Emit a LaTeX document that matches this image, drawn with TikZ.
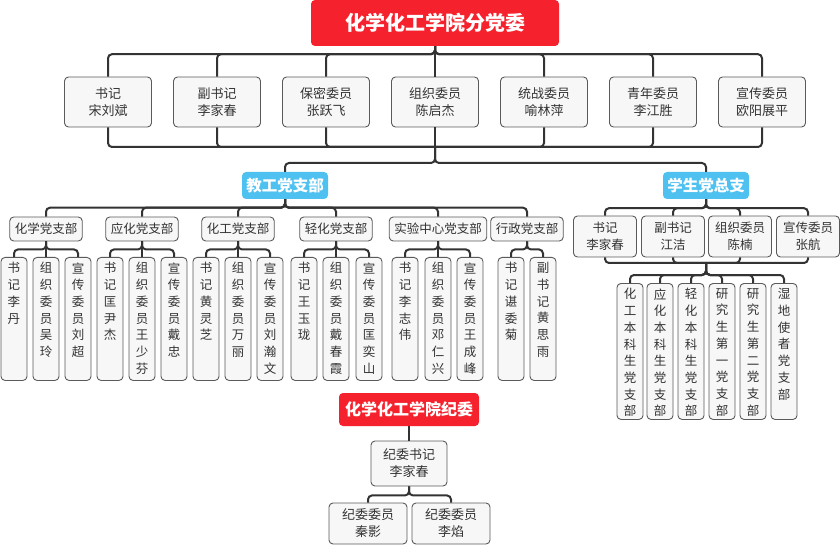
\documentclass[tikz,border=0pt]{standalone}
\usepackage{fontspec}
\setmainfont{Noto Sans CJK SC}
\XeTeXlinebreaklocale "zh"
\XeTeXlinebreakskip=0pt plus 1pt
\definecolor{dangred}{HTML}{F5222D}
\definecolor{tianlan}{HTML}{4FC1F1}
\definecolor{kuang}{HTML}{5A5A5A}
\definecolor{qianhui}{HTML}{F7F7F7}
\definecolor{xian}{HTML}{333333}
\definecolor{zi}{HTML}{333333}
% vertical text column, top aligned
\newcommand\shuzi[2]{\parbox[c][#1][t]{14pt}{\centering #2}}

\begin{document}
\begin{tikzpicture}[x=1pt, y=-1pt,
    wei/.style={fill=dangred, rounded corners=4pt, text=white, inner sep=0pt,
                font=\bfseries\fontsize{20}{24}\selectfont,
                minimum width=248pt, minimum height=46pt},
    zhibu/.style={fill=tianlan, rounded corners=4pt, text=white, inner sep=0pt,
                font=\bfseries\fontsize{15.5}{18}\selectfont,
                minimum width=86pt, minimum height=27pt},
    ka/.style={draw=kuang, fill=qianhui, line width=0.9pt, rounded corners=4pt,
               text=zi, align=center, inner sep=0pt,
               font=\fontsize{13}{17}\selectfont},
    bu/.style={ka, font=\fontsize{12.5}{15}\selectfont, minimum height=24pt,
               inner xsep=5pt},
    shu/.style={ka, font=\fontsize{12.5}{16.7}\selectfont, inner xsep=6pt,
                inner ysep=5pt, anchor=north},
    conn/.style={draw=xian, line width=2pt, rounded corners=4pt}
  ]
  \useasboundingbox (0,0) rectangle (840,545);

  % ── 分党委 ──
  \node[wei] (wei) at (435,23) {化学化工学院分党委};
  \coordinate (fen) at (435,147);
  \foreach \n/\txt [count=\i from 0] in {shuji/{书记\\宋刘斌}, fushuji/{副书记\\李家春},
      baomi/{保密委员\\张跃飞}, zuzhi/{组织委员\\陈启杰}, tongzhan/{统战委员\\喻林萍},
      qingnian/{青年委员\\李江胜}, xuanchuan/{宣传委员\\欧阳展平}}
  {
    \node[ka, minimum width=87pt, minimum height=50pt] (\n) at (108+109*\i,102) {\txt};
    \draw[conn] (wei.south) -- ++(0,8) -| (\n.north);
    \draw[conn] (\n.south) |- (fen);
  }

  % ── 教工党支部 / 学生党总支 ──
  \node[zhibu] (jg) at (285,185.5) {教工党支部};
  \node[zhibu] (xs) at (706,185.5) {学生党总支};
  \draw[conn] (fen) -- ++(0,16) -| (jg.north);
  \draw[conn] (fen) -- ++(0,16) -| (xs.north);

  % ── 教工各支部 ──
  \foreach \n/\x/\txt in {hx/46/化学党支部, yh/142/应化党支部, hg/238/化工党支部,
      qh/336/轻化党支部, sy/438/实验中心党支部, xz/527/行政党支部}
  {
    \node[bu] (\n) at (\x,229) {\txt};
    \draw[conn] (jg.south) -- ++(0,8.5) -| (\n.north);
  }
  \foreach \b/\n/\x/\txt in {hx/hx1/14/书记李丹, hx/hx2/46/组织委员吴玲,
      hx/hx3/78/宣传委员刘超, yh/yh1/110/书记匡尹杰, yh/yh2/142/组织委员王少芬,
      yh/yh3/174/宣传委员戴忠, hg/hg1/206/书记黄灵芝, hg/hg2/238/组织委员万丽,
      hg/hg3/270/宣传委员刘瀚文, qh/qh1/304/书记王玉珑, qh/qh2/336/组织委员戴春霞,
      qh/qh3/369/宣传委员匡奕山, sy/sy1/405/书记李志伟, sy/sy2/438/组织委员邓仁兴,
      sy/sy3/470/宣传委员王成峰, xz/xz1/511/书记谌委菊, xz/xz2/543/副书记黄思雨}
  {
    \node[shu] (\n) at (\x,257) {\shuzi{113pt}{\txt}};
    \draw[conn] (\b.south) -- ++(0,8) -| (\n.north);
  }

  % ── 学生党总支 ──
  \coordinate (xj) at (706,263);
  \foreach \n/\x/\txt in {xs1/605/{书记\\李家春}, xs2/673/{副书记\\江洁},
      xs3/740/{组织委员\\陈楠}, xs4/808/{宣传委员\\张航}}
  {
    \node[ka, font=\fontsize{12.5}{16.7}\selectfont, minimum width=63pt,
          minimum height=41pt] (\n) at (\x,236.5) {\txt};
    \draw[conn] (xs.south) -- ++(0,9) -| (\n.north);
    \draw[conn] (\n.south) |- (xj);
  }
  \foreach \n/\x/\txt in {hgbk/630/化工本科生党支部, yhbk/660/应化本科生党支部,
      qhbk/691/轻化本科生党支部, yjs1/722/研究生第一党支部,
      yjs2/753/研究生第二党支部, sdsz/784/湿地使者党支部}
  {
    \node[shu] (\n) at (\x,283) {\shuzi{126pt}{\txt}};
    \draw[conn] (xj) -- ++(0,12) -| (\n.north);
  }

  % ── 纪委 ──
  \node[wei, minimum width=140pt, minimum height=33pt,
        font=\bfseries\fontsize{16}{19}\selectfont] (jw) at (409,409.5) {化学化工学院纪委};
  \node[ka, minimum width=76pt, minimum height=45pt] (jwsj) at (409,463.5) {纪委书记\\李家春};
  \draw[conn] (jw) -- (jwsj);
  \foreach \n/\x/\txt in {jwwy1/368/{纪委委员\\秦影}, jwwy2/451/{纪委委员\\李焰}}
  {
    \node[ka, minimum width=78pt, minimum height=41pt] (\n) at (\x,523.5) {\txt};
    \draw[conn] (jwsj.south) -- ++(0,9) -| (\n.north);
  }
\end{tikzpicture}
\end{document}
